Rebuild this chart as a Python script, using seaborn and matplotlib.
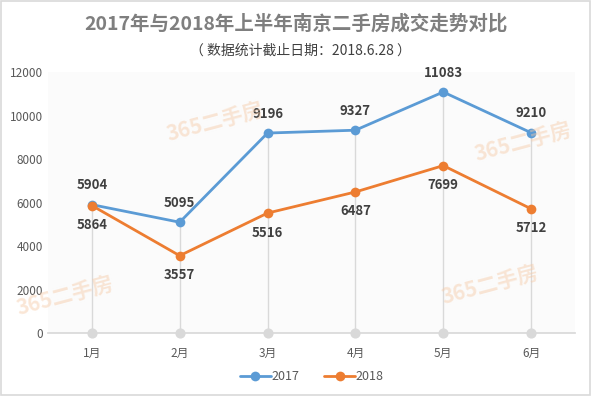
import matplotlib
matplotlib.use("Agg")
import matplotlib.pyplot as plt
import matplotlib.patches as mpatches
import seaborn as sns
import pandas as pd

months = ["1月", "2月", "3月", "4月", "5月", "6月"]
v2017 = [5904, 5095, 9196, 9327, 11083, 9210]
v2018 = [5864, 3557, 5516, 6487, 7699, 5712]
yticks = [0, 2000, 4000, 6000, 8000, 10000, 12000]

sns.set_theme(style="white")
plt.rcParams['font.family'] = ['Noto Sans CJK SC', 'DejaVu Sans']

df = pd.DataFrame({
    "month": months * 2,
    "value": v2017 + v2018,
    "year": ["2017"] * 6 + ["2018"] * 6,
})
df["x"] = list(range(6)) * 2

fig = plt.figure(figsize=(5.91, 3.96), dpi=100)
ax = fig.add_axes([0.081, 0.159, 0.892, 0.659])

# drop lines
for i in range(6):
    top = max(v2017[i], v2018[i])
    ax.plot([i, i], [0, top], color="#d9d9d9", lw=1, zorder=1)
ax.scatter(range(6), [0] * 6, s=40, color="#d9d9d9", zorder=2, clip_on=False)

palette = {"2017": "#5b9bd5", "2018": "#ed7d31"}
sns.lineplot(data=df, x="x", y="value", hue="year", palette=palette, marker="o",
             markersize=7, markeredgewidth=0, linewidth=2, ax=ax, zorder=3)

for i, v in enumerate(v2017):
    ax.annotate(str(v), (i, v), xytext=(0, 9), textcoords="offset points",
                ha="center", va="bottom", fontsize=9.5, fontweight="bold", color="#404040")
for i, v in enumerate(v2018):
    ax.annotate(str(v), (i, v), xytext=(0, -9), textcoords="offset points",
                ha="center", va="top", fontsize=9.5, fontweight="bold", color="#404040")

ax.set_xlim(-0.5, 5.5)
ax.set_ylim(0, 12000)
ax.set_xticks(range(6))
ax.set_xticklabels(months)
ax.set_yticks(yticks)
ax.set_yticklabels([str(t) for t in yticks])
ax.tick_params(axis="both", labelsize=8.5, colors="#595959", length=0)
ax.tick_params(axis="x", pad=10)
ax.set_xlabel("")
ax.set_ylabel("")
for s in ["top", "right", "left"]:
    ax.spines[s].set_visible(False)
ax.spines["bottom"].set_color("#d9d9d9")
ax.set_facecolor("#fbfbfb")

handles, labels = ax.get_legend_handles_labels()
ax.legend(handles, labels, loc="center", bbox_to_anchor=(0.5, -0.168), ncol=2,
          frameon=False, fontsize=9, handlelength=2.5, columnspacing=2.0,
          handletextpad=0.0, labelcolor="#595959")

fig.text(0.5, 0.94, "2017年与2018年上半年南京二手房成交走势对比", ha="center", va="center",
         fontsize=14, fontweight="bold", color="#7f7f7f")
fig.text(0.508, 0.871, "（ 数据统计截止日期：2018.6.28 ）", ha="center", va="center",
         fontsize=10, color="#404040")

# watermarks
for (x, y) in [(0.365, 0.69), (0.11, 0.25), (0.885, 0.64), (0.83, 0.28)]:
    fig.text(x, y, "365二手房", ha="center", va="center", fontsize=15, fontweight="bold",
             color="#f5c9a5", alpha=0.45, rotation=15, zorder=0)

# thin outer border
fig.patches.append(mpatches.Rectangle((0.002, 0.003), 0.996, 0.994, transform=fig.transFigure,
                                      fill=False, edgecolor="#d9d9d9", lw=1.2))

fig.savefig("out.png", dpi=100)
